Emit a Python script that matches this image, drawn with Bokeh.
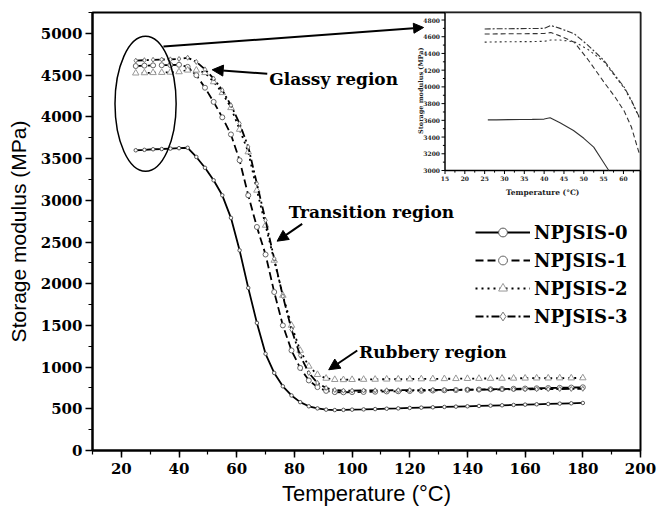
import math
from bokeh.plotting import figure
from bokeh.models import (Range1d, SingleIntervalTicker, Legend, LegendItem, Label,
                          Arrow, NormalHead)
from bokeh.core.properties import value
from bokeh.embed import file_html
from bokeh.resources import INLINE

# ---------------- data ----------------
temperature = [25, 28, 31, 34, 37, 40, 43, 46, 49, 52, 55, 58, 61, 64, 67, 70, 73, 76, 79, 82,
               85, 88, 91, 94, 97, 100, 104, 108, 112, 116, 120, 124, 128, 132, 136, 140, 144,
               148, 152, 156, 160, 164, 168, 172, 176, 180]
npjsis_0 = [3600, 3605, 3612, 3615, 3620, 3625, 3630, 3520, 3390, 3240, 3060, 2790, 2400, 1950,
            1530, 1160, 930, 770, 660, 580, 530, 505, 490, 485, 487, 490, 493, 497, 501, 505, 510,
            514, 518, 522, 526, 530, 534, 538, 542, 546, 550, 554, 558, 562, 566, 570]
npjsis_1 = [4610, 4615, 4618, 4620, 4622, 4625, 4600, 4500, 4350, 4180, 3995, 3790, 3480, 3060,
            2680, 2350, 1900, 1500, 1200, 990, 840, 760, 715, 700, 698, 700, 702, 705, 708, 710,
            713, 716, 719, 722, 725, 728, 731, 734, 737, 740, 743, 746, 749, 752, 755, 758]
npjsis_2 = [4525, 4528, 4530, 4532, 4535, 4540, 4560, 4560, 4530, 4420, 4290, 4110, 3850, 3580,
            3120, 2700, 2280, 1860, 1500, 1200, 1010, 910, 865, 850, 848, 850, 852, 853, 855, 856,
            857, 858, 859, 860, 861, 862, 863, 864, 865, 866, 867, 868, 868, 869, 869, 870]
npjsis_3 = [4675, 4680, 4685, 4688, 4690, 4695, 4710, 4660, 4570, 4460, 4320, 4140, 3920, 3640,
            3200, 2760, 2300, 1850, 1450, 1140, 930, 810, 750, 725, 718, 718, 720, 721, 722, 723,
            724, 725, 726, 727, 728, 729, 730, 731, 732, 733, 734, 735, 736, 737, 738, 740]
series_names = ["NPJSIS-0", "NPJSIS-1", "NPJSIS-2", "NPJSIS-3"]

# inset (zoomed glassy region)
inset_temperature_0 = [25.8, 28, 31, 34, 37, 40, 41.5, 44, 47.4, 50, 52.5, 55, 56.3]
inset_npjsis_0 = [3605, 3606, 3608, 3610, 3612, 3615, 3630, 3570, 3478, 3385, 3279, 3096, 3000]
inset_temperature = [25, 28, 31, 34, 37, 40, 41.7, 44, 47.6, 51, 55.1, 58, 60.2, 62, 64]
inset_npjsis_1 = [4632, 4634, 4635, 4636, 4637, 4638, 4650, 4610, 4534, 4330, 4056, 3870, 3710, 3520, 3200]
inset_npjsis_2 = [4535, 4538, 4540, 4541, 4542, 4545, 4560, 4560, 4540, 4450, 4300, 4120, 3985, 3830, 3630]
inset_npjsis_3 = [4693, 4695, 4696, 4697, 4698, 4700, 4734, 4700, 4635, 4500, 4316, 4130, 3996, 3840, 3637]
inset_x_ticks = [15, 20, 25, 30, 35, 40, 45, 50, 55, 60]
inset_y_ticks = [3000, 3200, 3400, 3600, 3800, 4000, 4200, 4400, 4600, 4800]

# ---------------- layout constants ----------------
W, H = 668, 511
FL, FR, FT, FB = 92, 640, 12, 450          # frame in pixels
X0, X1, Y0, Y1 = 10, 200, 0, 5252
SERIF = "DejaVu Serif"
SANS = "Liberation Sans"

p = figure(width=W, height=H, x_range=Range1d(X0, X1), y_range=Range1d(Y0, Y1),
           output_backend="svg", toolbar_location=None,
           min_border_left=FL, min_border_right=W - FR, min_border_top=FT,
           min_border_bottom=H - FB)
p.title.visible = False
p.xgrid.visible = False
p.ygrid.visible = False
p.outline_line_color = "black"
p.outline_line_width = 2
p.background_fill_color = "white"
p.border_fill_color = "white"

p.xaxis.ticker = SingleIntervalTicker(interval=20, num_minor_ticks=2)
p.yaxis.ticker = SingleIntervalTicker(interval=500, num_minor_ticks=2)
p.xaxis.axis_label = "Temperature (\u00b0C)"
p.yaxis.axis_label = "Storage modulus (MPa)"
for ax in (p.xaxis, p.yaxis):
    ax.axis_line_width = 2
    ax.major_tick_in = 0
    ax.major_tick_out = 7
    ax.minor_tick_in = 0
    ax.minor_tick_out = 4
    ax.major_tick_line_width = 1.5
    ax.minor_tick_line_width = 1.2
    ax.major_label_text_font = SERIF
    ax.major_label_text_font_style = "bold"
    ax.major_label_text_font_size = "15px"
    ax.major_label_text_color = "black"
    ax.axis_label_text_font = SANS
    ax.axis_label_text_font_style = "normal"
    ax.axis_label_text_color = "black"
p.xaxis.axis_label_text_font_size = "22px"
p.yaxis.axis_label_text_font_size = "21px"
p.xaxis.major_label_standoff = 5
p.yaxis.major_label_standoff = 3
p.xaxis.axis_label_standoff = 4
p.yaxis.axis_label_standoff = 8

# ---------------- main curves ----------------
styles = [
    dict(dash="solid", marker="circle", size=3.5, mcolor="#555555"),
    dict(dash="8 4", marker="circle", size=5, mcolor="#666666"),
    dict(dash="2 4", marker="triangle", size=6.5, mcolor="#999999"),
    dict(dash="8 3 2 3", marker="diamond", size=5, mcolor="#777777"),
]
items = []
for name, ys, st in zip(series_names, [npjsis_0, npjsis_1, npjsis_2, npjsis_3], styles):
    lr = p.line(temperature, ys, line_color="black", line_width=1.8, line_dash=st["dash"])
    sr = p.scatter(temperature, ys, marker=st["marker"], size=st["size"], fill_color="white",
                   line_color=st["mcolor"], line_width=1)
    items.append(LegendItem(label=name, renderers=[lr, sr]))

legend = Legend(items=items, location=(383, 123), border_line_color=None,
                background_fill_alpha=0, padding=0, margin=0, spacing=6,
                glyph_width=55, glyph_height=22, label_height=22, label_standoff=4,
                label_text_font=SERIF, label_text_font_style="bold",
                label_text_font_size="18px", label_text_color="black")
p.add_layout(legend)

# ---------------- annotations ----------------
p.ellipse(x=[28.4], y=[4157], width=[21.2], height=[1619], fill_color=None,
          line_color="black", line_width=1.5)

def arrow(xs, ys, xe, ye, size=11):
    p.add_layout(Arrow(end=NormalHead(size=size, fill_color="black", line_color="black"),
                       x_start=xs, y_start=ys, x_end=xe, y_end=ye,
                       line_color="black", line_width=2))

def note(x, y, text):
    p.add_layout(Label(x=x, y=y, text=text, text_font=SERIF, text_font_style="bold",
                       text_font_size="17px", text_baseline="middle", text_align="left",
                       text_color="black"))

note(71.3, 4460, "Glassy region")
arrow(70.6, 4517, 51.5, 4565)
note(78.0, 2857, "Transition region")
arrow(82.7, 2718, 74.0, 2510)
note(102.4, 1179, "Rubbery region")
arrow(101.8, 1199, 91.9, 968)
arrow(34.6, 4844, 124.8, 5072, size=10)

# ---------------- inset ----------------
IL, IB, IT_PX = 444.5, 170, 19.5           # inset left px, bottom px, px of 4800 tick
ix0, ix1 = 15, 64.3
ppx = (FR - IL) / (ix1 - ix0)
ppy = (IB - IT_PX) / (4800 - 3000)
iy0 = 3000
iy1 = 4800 + (IT_PX - FT) / ppy
p.extra_x_ranges = {"inset": Range1d(ix0 - (IL - FL) / ppx, ix1)}
p.extra_y_ranges = {"inset": Range1d(iy0 - (FB - IB) / ppy, iy1)}
kw = dict(x_range_name="inset", y_range_name="inset")

p.quad(left=[ix0], right=[ix1], bottom=[iy0], top=[iy1], fill_color="white",
       line_color="black", line_width=1.5, **kw)

inset_dashes = ["solid", "5 3", "2 3", "6 2 2 2"]
for ts, ys, dash in zip([inset_temperature_0, inset_temperature, inset_temperature, inset_temperature],
                        [inset_npjsis_0, inset_npjsis_1, inset_npjsis_2, inset_npjsis_3],
                        inset_dashes):
    p.line(ts, ys, line_color="#333333", line_width=1.1, line_dash=dash, **kw)

# inset ticks
tx = 3.5 / ppx
ty = 3.5 / ppy
p.segment(x0=inset_x_ticks, x1=inset_x_ticks, y0=[iy0] * len(inset_x_ticks),
          y1=[iy0 - ty] * len(inset_x_ticks), line_color="black", line_width=1, **kw)
minor_x = [t + 2.5 for t in inset_x_ticks]
p.segment(x0=minor_x, x1=minor_x, y0=[iy0] * len(minor_x), y1=[iy0 - ty * 0.6] * len(minor_x),
          line_color="black", line_width=1, **kw)
p.segment(x0=[ix0] * len(inset_y_ticks), x1=[ix0 - tx] * len(inset_y_ticks),
          y0=inset_y_ticks, y1=inset_y_ticks, line_color="black", line_width=1, **kw)
minor_y = [t + 100 for t in inset_y_ticks]
p.segment(x0=[ix0] * len(minor_y), x1=[ix0 - tx * 0.6] * len(minor_y),
          y0=minor_y, y1=minor_y, line_color="black", line_width=1, **kw)

p.text(x=inset_x_ticks, y=[iy0 - 5 / ppy] * len(inset_x_ticks),
       text=[str(t) for t in inset_x_ticks], text_font=value(SERIF), text_font_style="bold",
       text_font_size="6px", text_align="center", text_baseline="top", text_color="#222222", **kw)
p.text(x=[ix0 - 5 / ppx] * len(inset_y_ticks), y=inset_y_ticks,
       text=[str(t) for t in inset_y_ticks], text_font=value(SERIF), text_font_style="bold",
       text_font_size="6px", text_align="right", text_baseline="middle", text_color="#222222", **kw)

p.add_layout(Label(x=(ix0 + ix1) / 2, y=iy0 - 22 / ppy, text="Temperature (\u00b0C)",
                   text_font=SERIF, text_font_style="bold", text_font_size="7.5px",
                   text_align="center", text_baseline="middle", text_color="#222222", **kw))
p.add_layout(Label(x=ix0 - 24 / ppx, y=(iy0 + iy1) / 2 + 10, text="Storage modulus (MPa)",
                   text_font=SERIF, text_font_style="bold", text_font_size="6.5px",
                   text_align="center", text_baseline="middle", angle=math.pi / 2,
                   text_color="#222222", **kw))

open("out.html", "w").write(file_html(p, INLINE))
